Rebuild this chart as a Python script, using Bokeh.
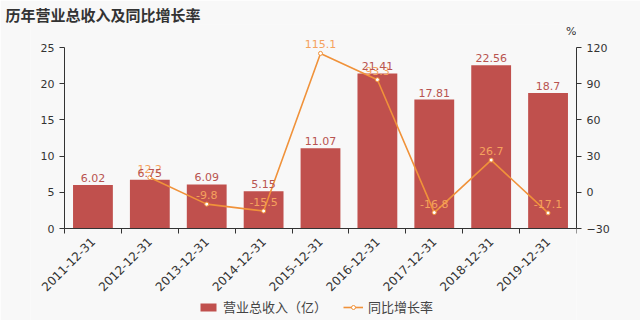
import math
from bokeh.plotting import figure
from bokeh.models import (Range1d, LinearAxis, FixedTicker, ColumnDataSource, Label,
                          Legend, LegendItem)
from bokeh.core.properties import value
from bokeh.embed import file_html
from bokeh.resources import INLINE

years = ["2011-12-31", "2012-12-31", "2013-12-31", "2014-12-31", "2015-12-31",
         "2016-12-31", "2017-12-31", "2018-12-31", "2019-12-31"]
revenue = [6.02, 6.75, 6.09, 5.15, 11.07, 21.41, 17.81, 22.56, 18.7]
growth_years = years[1:]
growth = [12.2, -9.8, -15.5, 115.1, 93.3, -16.8, 26.7, -17.1]
left_ticks = [0, 5, 10, 15, 20, 25]
right_ticks = [-30, 0, 30, 60, 90, 120]

FONT = "DejaVu Sans"
CJK = "Noto Sans CJK SC"
BAR = "#c0504d"
LINE = "#f0923a"
TXT = "#333333"

# geometry (pixels): frame from x=30..576, y=24..320; value axes y 47..228, x 64..576
HEIGHT, FRAME_TOP, AXIS_TOP, AXIS_BOTTOM = 320, 24, 47, 228
FRAME_LEFT, AXIS_LEFT, AXIS_RIGHT = 30, 64, 576
axis_px = AXIS_BOTTOM - AXIS_TOP
above = AXIS_TOP - FRAME_TOP
below = HEIGHT - AXIS_BOTTOM
l_lo, l_hi = left_ticks[0], left_ticks[-1]
r_lo, r_hi = right_ticks[0], right_ticks[-1]
l_scale = (l_hi - l_lo) / axis_px
r_scale = (r_hi - r_lo) / axis_px
x_scale = len(years) / (AXIS_RIGHT - AXIS_LEFT)
x_start = -(AXIS_LEFT - FRAME_LEFT) * x_scale

xc = [years.index(y) + 0.5 for y in years]
xg = [years.index(y) + 0.5 for y in growth_years]

p = figure(frame_width=AXIS_RIGHT - FRAME_LEFT, frame_height=HEIGHT - FRAME_TOP,
           output_backend="svg", toolbar_location=None,
           x_range=Range1d(x_start, len(years)),
           y_range=Range1d(l_lo - below * l_scale, l_hi + above * l_scale),
           min_border_left=FRAME_LEFT, min_border_right=640 - AXIS_RIGHT,
           min_border_top=FRAME_TOP, min_border_bottom=0)
p.background_fill_color = "#f8f8f8"
p.border_fill_color = "#f8f8f8"
p.outline_line_color = None
p.grid.visible = False
p.extra_y_ranges = {"pct": Range1d(r_lo - below * r_scale, r_hi + above * r_scale)}

p.title.text = "历年营业总收入及同比增长率"
p.title.text_font = CJK
p.title.text_font_size = "15px"
p.title.text_font_style = "bold"
p.title.text_color = TXT
p.title.align = "left"
p.title.offset = 5 - FRAME_LEFT
p.title.standoff = 0

bsrc = ColumnDataSource(dict(x=xc, top=revenue, lab=[str(v) for v in revenue]))
gsrc = ColumnDataSource(dict(x=xg, y=growth, lab=[str(v) for v in growth]))

bars = p.vbar(x="x", top="top", width=0.7, bottom=0, source=bsrc, fill_color=BAR, line_color=None)
line = p.line(x="x", y="y", source=gsrc, y_range_name="pct", line_color=LINE, line_width=1.6)
pts = p.scatter(x="x", y="y", source=gsrc, y_range_name="pct", size=4, fill_color="white",
                line_color=LINE, line_width=1)
p.text(x="x", y="y", text="lab", source=gsrc, y_range_name="pct", text_align="center",
       text_baseline="bottom", y_offset=-5, text_font=value(FONT), text_font_size="11px",
       text_color="#f5a25d")
p.text(x="x", y="top", text="lab", source=bsrc, text_align="center", text_baseline="bottom",
       y_offset=-3, text_font=value(FONT), text_font_size="11px", text_color="#b85450")

# x axis drawn at value 0 inside the frame
xa = p.xaxis[0]
xa.fixed_location = l_lo
xa.bounds = (0, len(years))
xa.ticker = FixedTicker(ticks=xc, minor_ticks=list(range(len(years) + 1)))
xa.major_label_overrides = {x: y for x, y in zip(xc, years)}
xa.major_label_orientation = math.pi / 4
xa.major_tick_line_color = None
xa.major_tick_out = 0
xa.major_label_standoff = 6
xa.minor_tick_in = 0
xa.minor_tick_out = 5
xa.minor_tick_line_color = TXT
xa.axis_line_color = TXT
xa.major_label_text_font = FONT
xa.major_label_text_font_size = "12px"
xa.major_label_text_color = TXT

# left value axis drawn at the first category edge inside the frame
ya = p.yaxis[0]
ya.fixed_location = 0
ya.ticker = FixedTicker(ticks=left_ticks)
ya.bounds = (l_lo, l_hi)
ya.minor_tick_line_color = None
ya.major_tick_in = 0
ya.major_tick_out = 5
ya.axis_line_color = TXT
ya.major_tick_line_color = TXT
ya.major_label_text_font = FONT
ya.major_label_text_font_size = "11px"
ya.major_label_text_color = TXT

ra = LinearAxis(y_range_name="pct", ticker=FixedTicker(ticks=right_ticks), bounds=(r_lo, r_hi))
ra.minor_tick_line_color = None
ra.major_tick_in = 0
ra.major_tick_out = 5
ra.axis_line_color = TXT
ra.major_tick_line_color = TXT
ra.major_label_text_font = FONT
ra.major_label_text_font_size = "11px"
ra.major_label_text_color = TXT
p.add_layout(ra, "right")

p.add_layout(Label(x=AXIS_RIGHT - FRAME_LEFT, y=HEIGHT - 31, x_units="screen", y_units="screen",
                   text="%", text_font=FONT, text_font_size="11px", text_color=TXT,
                   text_align="right", text_baseline="middle"))

legend = Legend(items=[LegendItem(label="营业总收入（亿）", renderers=[bars]),
                       LegendItem(label="同比增长率", renderers=[line, pts])],
                orientation="horizontal", location=(198 - FRAME_LEFT, 4),
                label_text_font=CJK, label_text_font_size="13px", label_text_color="#444444",
                background_fill_alpha=0, border_line_color=None,
                glyph_width=20, glyph_height=10, label_height=14, label_standoff=5, spacing=16,
                padding=0, margin=0)
p.add_layout(legend, "center")

open("out.html", "w").write(file_html(p, INLINE))
